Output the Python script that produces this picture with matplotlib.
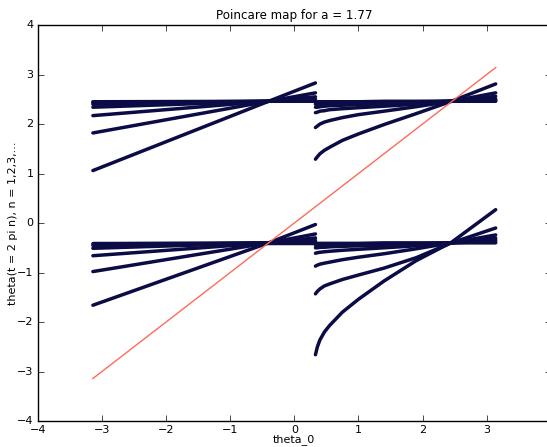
import matplotlib
matplotlib.use("Agg")
import matplotlib.pyplot as plt
import numpy as np

# theta_0 sample points
x_left = [-3.14, -0.40, 0.33]
x_right = [0.33, 0.36, 0.40, 0.47, 0.55, 0.75, 1.0, 1.4, 1.9, 2.45, 3.14]

# upper family, theta_0 < 0.33
upper_left = [
    [1.06, 2.46, 2.83],
    [1.82, 2.46, 2.63],
    [2.17, 2.46, 2.55],
    [2.34, 2.46, 2.50],
    [2.40, 2.46, 2.48],
    [2.43, 2.46, 2.47],
    [2.45, 2.46, 2.46],
]
# lower family, theta_0 < 0.33
lower_left = [
    [-1.66, -0.40, -0.03],
    [-0.98, -0.40, -0.22],
    [-0.66, -0.40, -0.30],
    [-0.51, -0.40, -0.35],
    [-0.45, -0.40, -0.37],
    [-0.42, -0.40, -0.39],
    [-0.40, -0.40, -0.40],
]
# upper family, theta_0 > 0.33
upper_right = [
    [1.29, 1.34, 1.40, 1.47, 1.53, 1.67, 1.80, 1.99, 2.21, 2.46, 2.81],
    [1.93, 1.96, 2.00, 2.04, 2.07, 2.13, 2.19, 2.26, 2.35, 2.46, 2.63],
    [2.23, 2.24, 2.26, 2.27, 2.29, 2.31, 2.33, 2.36, 2.40, 2.46, 2.56],
    [2.34, 2.34, 2.35, 2.36, 2.37, 2.38, 2.39, 2.41, 2.43, 2.46, 2.51],
    [2.40, 2.40, 2.41, 2.41, 2.41, 2.42, 2.42, 2.43, 2.44, 2.46, 2.48],
    [2.43, 2.43, 2.43, 2.44, 2.44, 2.44, 2.44, 2.45, 2.45, 2.46, 2.47],
    [2.45, 2.45, 2.45, 2.45, 2.45, 2.45, 2.45, 2.46, 2.46, 2.46, 2.46],
]
# lower family, theta_0 > 0.33
lower_right = [
    [-2.66, -2.50, -2.36, -2.20, -2.07, -1.80, -1.54, -1.17, -0.76, -0.39, 0.27],
    [-1.43, -1.38, -1.33, -1.27, -1.23, -1.14, -1.05, -0.91, -0.70, -0.40, -0.10],
    [-0.87, -0.85, -0.83, -0.81, -0.79, -0.74, -0.69, -0.62, -0.52, -0.40, -0.24],
    [-0.61, -0.60, -0.59, -0.58, -0.57, -0.55, -0.53, -0.50, -0.46, -0.40, -0.30],
    [-0.50, -0.50, -0.49, -0.49, -0.48, -0.47, -0.46, -0.45, -0.43, -0.40, -0.34],
    [-0.45, -0.45, -0.45, -0.44, -0.44, -0.44, -0.43, -0.43, -0.42, -0.40, -0.37],
    [-0.41, -0.41, -0.41, -0.41, -0.41, -0.41, -0.41, -0.40, -0.40, -0.40, -0.40],
]
diag = [-np.pi, np.pi]
x_ticks = [-4, -3, -2, -1, 0, 1, 2, 3]
y_ticks = [-4, -3, -2, -1, 0, 1, 2, 3, 4]

plt.style.use("classic")
fig = plt.figure(figsize=(5.47, 4.47), dpi=100, facecolor="white")
ax = fig.add_axes([0.069, 0.058, 0.938, 0.886])

col = "#0b0b45"
for ys in upper_left + lower_left:
    ax.plot(x_left, ys, color=col, lw=2.5, solid_capstyle="round")
for ys in upper_right + lower_right:
    ax.plot(x_right, ys, color=col, lw=2.5, solid_capstyle="round",
            solid_joinstyle="round")

ax.plot(diag, diag, color="#ff6a5a", lw=1.0)

ax.set_xlim(-4, 4)
ax.set_ylim(-4, 4)
ax.set_xticks(x_ticks)
ax.set_yticks(y_ticks)
ax.tick_params(labelsize=8, length=4, direction="in", top=True, right=True, pad=3)
ax.set_title("Poincare map for a = 1.77", fontsize=8.6, pad=4)
ax.set_xlabel("theta_0", fontsize=8, labelpad=-1)
ax.set_ylabel("theta(t = 2 pi n), n = 1,2,3,...", fontsize=8, labelpad=-0.5)

fig.savefig("out.png", dpi=100, facecolor="white")
